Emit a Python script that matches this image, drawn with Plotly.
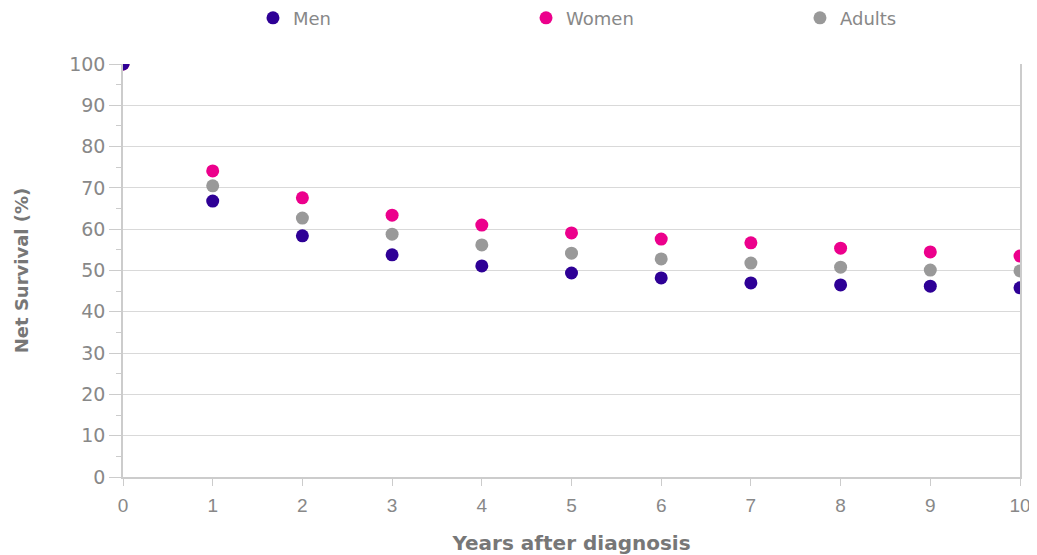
import plotly.graph_objects as go

years = [0, 1, 2, 3, 4, 5, 6, 7, 8, 9, 10]
men = [100, 66.8, 58.4, 53.8, 51.1, 49.4, 48.2, 47.0, 46.5, 46.2, 45.8]
women = [100, 74.1, 67.6, 63.4, 61.0, 59.1, 57.6, 56.7, 55.4, 54.5, 53.5]
adults = [100, 70.5, 62.7, 58.8, 56.2, 54.2, 52.8, 51.8, 50.8, 50.1, 49.9]

fig = go.Figure()
fig.add_trace(go.Scatter(x=years, y=adults, name="Adults", mode="markers",
                         marker=dict(color="#999999", size=13), legend="legend3",
                         cliponaxis=True, showlegend=True))
fig.add_trace(go.Scatter(x=years, y=women, name="Women", mode="markers",
                         marker=dict(color="#ec008c", size=13), legend="legend2",
                         cliponaxis=True, showlegend=True))
fig.add_trace(go.Scatter(x=years, y=men, name="Men", mode="markers",
                         marker=dict(color="#2e0096", size=13), legend="legend",
                         cliponaxis=True, showlegend=True))

font = "DejaVu Sans, sans-serif"
# page body has an 8px margin, so the figure is drawn 8px in from the top-left
leg_common = dict(orientation="h", y=1.111, yanchor="middle", xanchor="left",
                  font=dict(size=18, color="#888888"), bgcolor="rgba(0,0,0,0)")
fig.update_layout(
    width=1029, height=547, showlegend=True,
    margin=dict(l=115, r=17, t=56, b=78, autoexpand=False),
    plot_bgcolor="white", paper_bgcolor="white",
    font=dict(family=font, color="#888888", size=17),
    legend=dict(x=0.1449, **leg_common),
    legend2=dict(x=0.4493, **leg_common),
    legend3=dict(x=0.7547, **leg_common),
    xaxis=dict(range=[0, 10], dtick=1, showgrid=False, showline=True,
               linecolor="#cccccc", linewidth=1.5, ticks="outside", ticklen=7,
               tickcolor="#cccccc", tickfont=dict(size=19, color="#888888",
                                                  family="Liberation Sans, Arial, sans-serif"),
               ticklabelstandoff=3,
               zeroline=False, automargin=False,
               title=dict(text="<b>Years after diagnosis</b>", standoff=25,
                          font=dict(size=20, color="#777777"))),
    yaxis=dict(range=[0, 100], dtick=10, showgrid=True, gridcolor="#d9d9d9",
               showline=True, linecolor="#cccccc", linewidth=1.5, mirror=True,
               ticks="outside", ticklen=12, tickcolor="#cccccc",
               tickfont=dict(size=19, color="#888888"), zeroline=False,
               automargin=False,
               minor=dict(dtick=5, ticks="outside", ticklen=5, tickcolor="#cccccc",
                          showgrid=False),
               title=dict(text="<b>Net Survival (%)</b>", standoff=36,
                          font=dict(size=18, color="#777777"))),
)
fig.write_html("out.html")
